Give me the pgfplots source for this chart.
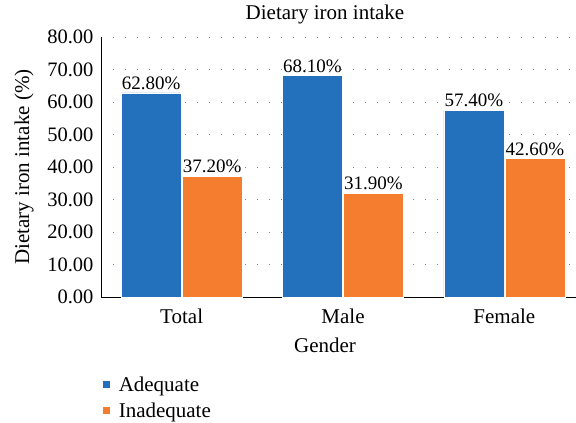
\documentclass[border=0pt]{standalone}
\usepackage{pgfplots}
\pgfplotsset{compat=1.18}
\usepackage{fontspec}
\setmainfont{Liberation Serif}
\definecolor{cblue}{HTML}{2371BD}
\definecolor{corange}{HTML}{F47D30}
\newcommand{\tfont}{\fontsize{21}{25}\selectfont}
\newcommand{\nfont}{\fontsize{20.5}{24}\selectfont}
\newcommand{\bfont}{\fontsize{19}{23}\selectfont}
\begin{document}
\begin{tikzpicture}[font=\tfont]
\path[use as bounding box] (-101pt,-126pt) rectangle (475pt,297pt);
\begin{axis}[
  at={(0,0)}, anchor=south west,
  scale only axis, width=484pt, height=260pt,
  xmin=-0.5, xmax=2.5, ymin=0, ymax=80,
  ybar, bar width=0.372,
  xtick={0,1,2}, xticklabels={Total,Male,Female},
  ytick={0,10,...,80},
  axis x line*=bottom, axis y line*=left,
  x axis line style={-}, y axis line style={-},
  axis line style={black, line width=0.9pt},
  tick style={draw=none},
  ymajorgrids,
  grid style={gray, line width=0.9pt, dash pattern=on 0.9pt off 11.1pt},
  /pgf/number format/assume math mode=true,
  yticklabel={\pgfmathprintnumber[fixed,fixed zerofill,precision=2]{\tick}},
  yticklabel style={font=\nfont, xshift=-4pt},
  xticklabel style={font=\tfont, yshift=-4pt},
  every axis title shift=0pt,
  title={Dietary iron intake},
  title style={at={(axis description cs:0.4628,1.085)}, anchor=center, yshift=0pt, font=\tfont},
  xlabel={Gender}, ylabel={Dietary iron intake (\%)},
  xlabel style={at={(axis description cs:0.4628,-0.185)}, anchor=center, font=\tfont},
  ylabel style={at={(axis description cs:-0.159,0.5)}, anchor=center, font=\tfont},
  nodes near coords={\pgfmathprintnumber[fixed,fixed zerofill,precision=2]{\pgfplotspointmeta}\%},
  nodes near coords style={font=\bfont, inner sep=3pt},
  legend style={at={(axis description cs:-0.004,-0.29)}, anchor=north west, draw=none, fill=none,
    row sep=6pt, font=\tfont, legend cell align=left,
    nodes={inner xsep=8pt}},
  legend image code/.code={\fill[#1] (0pt,-4pt) rectangle (8pt,4pt);},
  clip=false,
]
\addplot[fill=cblue, draw=white, line width=0.5pt, bar shift=-0.189] coordinates {(0,62.8) (1,68.1) (2,57.4)};
\addplot[fill=corange, draw=white, line width=0.5pt, bar shift=0.189] coordinates {(0,37.2) (1,31.9) (2,42.6)};
\legend{Adequate, Inadequate}
\end{axis}
\end{tikzpicture}
\end{document}
